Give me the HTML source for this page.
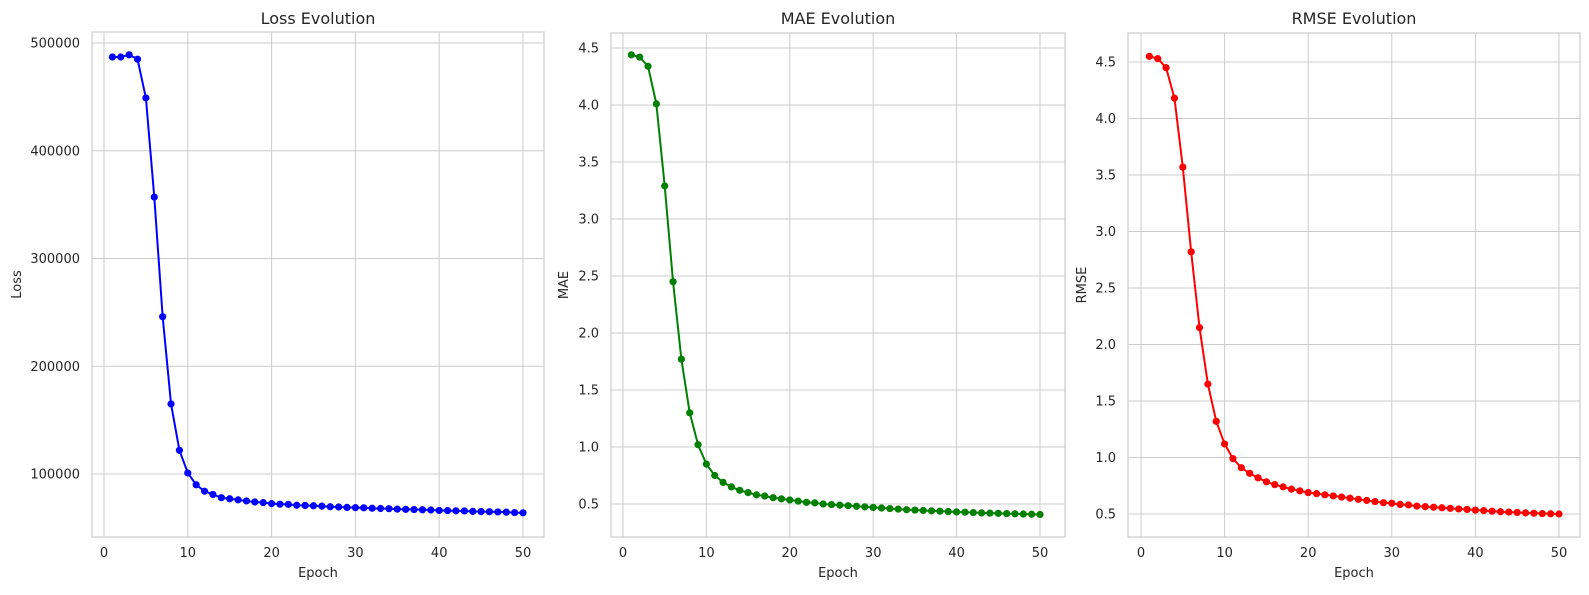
<!DOCTYPE html>
<html><head><meta charset="utf-8"><style>
body{margin:0;background:#fff;}
svg text{font-family:"DejaVu Sans","Liberation Sans",sans-serif;fill:#262626;}
</style></head><body>
<svg id="chart" width="1589" height="590" xmlns="http://www.w3.org/2000/svg"></svg>
<script>
const epochs = Array.from({length:50},(_,i)=>i+1);
const lossValues = [487000,487000,489000,485000,449000,357000,246000,165000,122000,101000,90000,84000,81000,78000,77000,76000,75000,74000,73500,72500,72000,71800,71000,70800,70500,70200,69600,69400,69000,68800,68600,68200,68000,67800,67400,67200,67000,66800,66600,66200,66000,65800,65700,65300,65100,65000,64800,64600,64200,64000];
const maeValues = [4.44,4.42,4.34,4.01,3.29,2.45,1.77,1.30,1.02,0.85,0.75,0.69,0.65,0.62,0.60,0.58,0.57,0.555,0.545,0.535,0.525,0.515,0.51,0.50,0.495,0.49,0.485,0.48,0.475,0.47,0.465,0.46,0.455,0.45,0.447,0.443,0.44,0.437,0.434,0.43,0.428,0.425,0.422,0.42,0.418,0.416,0.414,0.412,0.41,0.408];
const rmseValues = [4.55,4.53,4.45,4.18,3.57,2.82,2.15,1.65,1.32,1.12,0.99,0.91,0.86,0.82,0.785,0.76,0.74,0.72,0.705,0.69,0.68,0.67,0.66,0.65,0.64,0.63,0.62,0.61,0.60,0.595,0.585,0.58,0.57,0.565,0.56,0.555,0.55,0.545,0.54,0.535,0.53,0.525,0.52,0.517,0.514,0.51,0.507,0.504,0.502,0.50];
const xTicks = [0,10,20,30,40,50];
const lossTicks = [100000,200000,300000,400000,500000];
const maeTicks = [0.5,1.0,1.5,2.0,2.5,3.0,3.5,4.0,4.5];
const rmseTicks = [0.5,1.0,1.5,2.0,2.5,3.0,3.5,4.0,4.5];

const NS="http://www.w3.org/2000/svg";
const svg=document.getElementById('chart');
function mk(tag,attrs,parent){const e=document.createElementNS(NS,tag);for(const k in attrs)e.setAttribute(k,attrs[k]);(parent||svg).appendChild(e);return e;}

function panel(cfg){
  const g=mk('g',{});
  
  
  const L=cfg.left,R=cfg.right,T=cfg.top,B=537;
  const xs=v=>cfg.x0+(v)*(cfg.x50-cfg.x0)/50;
  const ys=v=>cfg.yA+(v-cfg.vA)*(cfg.yB-cfg.yA)/(cfg.vB-cfg.vA);
  xTicks.forEach(t=>{
    const l=mk('line',{x1:xs(t),x2:xs(t),y1:T,y2:B,stroke:'#cccccc','stroke-width':1},g);
    
    
    const tx=mk('text',{x:xs(t),y:557,'font-size':13,'text-anchor':'middle'},g);
    tx.textContent=t;
    
    
  });
  cfg.ticks.forEach(t=>{
    const y=ys(t);
    const l=mk('line',{x1:L,x2:R,y1:y,y2:y,stroke:'#cccccc','stroke-width':1},g);
    
    
    const tx=mk('text',{x:L-12,y:y+4.5,'font-size':13,'text-anchor':'end'},g);
    tx.textContent=cfg.fmt(t);
    
    
  });
  const frame=mk('rect',{x:L,y:T,width:R-L,height:B-T,fill:'none',stroke:'#cccccc','stroke-width':1.2},g);
  
  
  const pts=cfg.values.map((v,i)=>xs(epochs[i])+','+ys(v)).join(' ');
  const pl=mk('polyline',{points:pts,fill:'none',stroke:cfg.color,'stroke-width':2,'stroke-linejoin':'round'},g);
  
  
  cfg.values.forEach((v,i)=>{
    const c=mk('circle',{cx:xs(epochs[i]),cy:ys(v),r:3.6,fill:cfg.color},g);
    
    
  });
  const title=mk('text',{x:(L+R)/2,y:24,'font-size':16,'text-anchor':'middle'},g);
  title.textContent=cfg.title;
  
  
  const xl=mk('text',{x:(L+R)/2,y:577,'font-size':13,'text-anchor':'middle'},g);
  xl.textContent='Epoch';
  
  
  const yc=(T+B)/2;
  const yl=mk('text',{x:cfg.ylx,y:yc,'font-size':13,'text-anchor':'middle',transform:`rotate(-90 ${cfg.ylx} ${yc})`},g);
  yl.textContent=cfg.ylabel;
  
  
}
panel({name:'loss',title:'Loss Evolution',ylabel:'Loss',values:lossValues,ticks:lossTicks,color:'#0000ff',
  left:92,right:544,top:32,x0:104,x50:523,vA:500000,yA:43,vB:100000,yB:474,ylx:21,fmt:t=>String(t)});
panel({name:'mae',title:'MAE Evolution',ylabel:'MAE',values:maeValues,ticks:maeTicks,color:'#008000',
  left:611,right:1065,top:33,x0:623,x50:1040,vA:4.5,yA:48,vB:0.5,yB:504,ylx:568,fmt:t=>t.toFixed(1)});
panel({name:'rmse',title:'RMSE Evolution',ylabel:'RMSE',values:rmseValues,ticks:rmseTicks,color:'#ff0000',
  left:1128,right:1580,top:33,x0:1141,x50:1559,vA:4.5,yA:62,vB:0.5,yB:514,ylx:1086,fmt:t=>t.toFixed(1)});
</script>
</body></html>
